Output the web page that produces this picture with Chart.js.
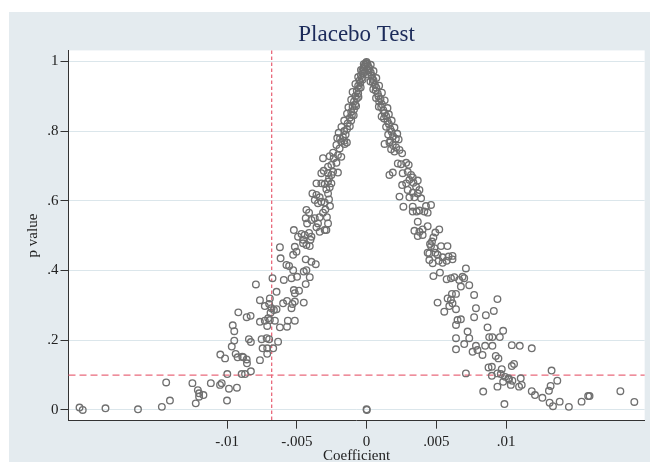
<!DOCTYPE html>
<html>
<head>
<meta charset="utf-8">
<script src="https://cdn.jsdelivr.net/npm/chart.js@4.4.1/dist/chart.umd.min.js"></script>
<style>
    html, body { margin: 0; padding: 0; background: #ffffff; overflow: hidden; }
    #wrap { width: 650px; height: 462px; overflow: hidden; }
    canvas { display: block; }
</style>
</head>
<body>
<div id="wrap"><canvas id="placebo" width="650" height="466"></canvas></div>
<script>
// Coefficients estimés et p-values du test placebo, par zone du nuage
const leftTail = [
    [-0.02057, 0.007], [-0.02034, 0.000], [-0.01871, 0.005], [-0.01638, 0.002], [-0.01467, 0.009],
    [-0.01409, 0.027], [-0.01436, 0.079], [-0.01248, 0.077], [-0.01209, 0.057], [-0.01200, 0.048],
    [-0.01169, 0.043], [-0.01224, 0.019], [-0.01200, 0.038], [-0.01116, 0.077], [-0.01050, 0.072],
    [-0.01038, 0.077], [-0.00986, 0.061], [-0.01000, 0.027], [-0.00929, 0.064], [-0.00998, 0.103],
    [-0.00895, 0.103], [-0.00871, 0.103], [-0.00829, 0.111], [-0.01048, 0.159], [-0.01014, 0.148],
    [-0.00966, 0.182], [-0.00938, 0.161], [-0.00924, 0.151], [-0.00891, 0.153], [-0.00859, 0.145],
    [-0.00857, 0.134], [-0.00948, 0.199], [-0.00948, 0.226], [-0.00843, 0.203], [-0.00829, 0.195],
    [-0.00884, 0.151]
];

const leftSlope = [
    [-0.00793, 0.360], [-0.00919, 0.280], [-0.00859, 0.266], [-0.00831, 0.270], [-0.00959, 0.243],
    [-0.00764, 0.143], [-0.00752, 0.203], [-0.00716, 0.206], [-0.00698, 0.203], [-0.00745, 0.177],
    [-0.00712, 0.177], [-0.00669, 0.177], [-0.00712, 0.161], [-0.00634, 0.196], [-0.00764, 0.253],
    [-0.00729, 0.256], [-0.00705, 0.263], [-0.00693, 0.258], [-0.00657, 0.256], [-0.00712, 0.241],
    [-0.00764, 0.315], [-0.00729, 0.298], [-0.00698, 0.304], [-0.00681, 0.292], [-0.00664, 0.287],
    [-0.00645, 0.289], [-0.00693, 0.320], [-0.00688, 0.279], [-0.00645, 0.339], [-0.00674, 0.378],
    [-0.00621, 0.237], [-0.00570, 0.239], [-0.00564, 0.256], [-0.00514, 0.256], [-0.00598, 0.306],
    [-0.00570, 0.313], [-0.00531, 0.304], [-0.00514, 0.311], [-0.00538, 0.292], [-0.00450, 0.308],
    [-0.00593, 0.373], [-0.00538, 0.378], [-0.00498, 0.382], [-0.00436, 0.361], [-0.00407, 0.381],
    [-0.00521, 0.344], [-0.00514, 0.335], [-0.00484, 0.342], [-0.00574, 0.416], [-0.00555, 0.413],
    [-0.00526, 0.401], [-0.00450, 0.397], [-0.00431, 0.401], [-0.00436, 0.432], [-0.00395, 0.425],
    [-0.00364, 0.418], [-0.00621, 0.467], [-0.00616, 0.435], [-0.00526, 0.445], [-0.00502, 0.454],
    [-0.00514, 0.468], [-0.00455, 0.478], [-0.00431, 0.473], [-0.00407, 0.470], [-0.00491, 0.497],
    [-0.00466, 0.505], [-0.00395, 0.497], [-0.00336, 0.511], [-0.00288, 0.516]
];

const leftArm = [
    [-0.00521, 0.516], [-0.00443, 0.502], [-0.00455, 0.488], [-0.00402, 0.488], [-0.00412, 0.508],
    [-0.00431, 0.574], [-0.00412, 0.566], [-0.00436, 0.550], [-0.00395, 0.545], [-0.00426, 0.535],
    [-0.00371, 0.550], [-0.00336, 0.553], [-0.00348, 0.535], [-0.00312, 0.566], [-0.00284, 0.553],
    [-0.00276, 0.535], [-0.00300, 0.516], [-0.00359, 0.524], [-0.00295, 0.575], [-0.00262, 0.585],
    [-0.00388, 0.621], [-0.00359, 0.617], [-0.00336, 0.610], [-0.00371, 0.602], [-0.00324, 0.597],
    [-0.00300, 0.595], [-0.00348, 0.593], [-0.00269, 0.604], [-0.00276, 0.621], [-0.00359, 0.650],
    [-0.00324, 0.650], [-0.00300, 0.648], [-0.00276, 0.655], [-0.00252, 0.650], [-0.00264, 0.639],
    [-0.00288, 0.633], [-0.00324, 0.679], [-0.00307, 0.686], [-0.00276, 0.679], [-0.00252, 0.674],
    [-0.00240, 0.683], [-0.00205, 0.681], [-0.00269, 0.664], [-0.00312, 0.722], [-0.00264, 0.728],
    [-0.00236, 0.722], [-0.00216, 0.709], [-0.00252, 0.703], [-0.00276, 0.698], [-0.00205, 0.731],
    [-0.00181, 0.726], [-0.00240, 0.738], [-0.00193, 0.750], [-0.00216, 0.760], [-0.00181, 0.769],
    [-0.00157, 0.763], [-0.00141, 0.767]
];

const peakLeft = [
    [-0.00005, 0.995], [-0.00010, 0.990], [-0.00015, 0.985], [-0.00020, 0.978], [-0.00030, 0.972],
    [-0.00025, 0.965], [-0.00040, 0.960], [-0.00035, 0.952], [-0.00050, 0.945], [-0.00045, 0.938],
    [-0.00060, 0.930], [-0.00055, 0.922], [-0.00070, 0.915], [-0.00060, 0.908], [-0.00080, 0.900],
    [-0.00070, 0.893], [-0.00090, 0.885], [-0.00082, 0.876], [-0.00100, 0.870], [-0.00090, 0.862],
    [-0.00110, 0.855], [-0.00105, 0.846], [-0.00120, 0.838], [-0.00110, 0.830], [-0.00135, 0.822],
    [-0.00120, 0.814], [-0.00140, 0.806], [-0.00160, 0.800], [-0.00150, 0.790], [-0.00170, 0.784],
    [-0.00190, 0.778], [-0.00160, 0.772], [-0.00020, 0.992], [-0.00040, 0.975], [-0.00060, 0.955],
    [-0.00080, 0.935], [-0.00100, 0.912], [-0.00110, 0.890], [-0.00130, 0.868], [-0.00140, 0.850],
    [-0.00160, 0.830], [-0.00180, 0.812], [-0.00200, 0.795], [-0.00210, 0.780], [-0.00012, 0.970],
    [-0.00028, 0.948], [-0.00042, 0.925], [-0.00058, 0.898], [-0.00075, 0.872], [-0.00092, 0.845]
];

const peakRight = [
    [0.00000, 0.998], [0.00005, 0.993], [0.00010, 0.987], [0.00020, 0.980], [0.00015, 0.974],
    [0.00030, 0.968], [0.00035, 0.960], [0.00040, 0.953], [0.00050, 0.946], [0.00045, 0.940],
    [0.00060, 0.932], [0.00070, 0.924], [0.00065, 0.916], [0.00080, 0.908], [0.00085, 0.900],
    [0.00100, 0.892], [0.00090, 0.885], [0.00110, 0.877], [0.00105, 0.868], [0.00120, 0.860],
    [0.00130, 0.852], [0.00140, 0.843], [0.00125, 0.836], [0.00150, 0.828], [0.00160, 0.820],
    [0.00140, 0.812], [0.00170, 0.806], [0.00180, 0.798], [0.00155, 0.790], [0.00190, 0.785],
    [0.00210, 0.778], [0.00170, 0.772], [0.00030, 0.990], [0.00050, 0.972], [0.00070, 0.952],
    [0.00090, 0.930], [0.00110, 0.910], [0.00130, 0.888], [0.00150, 0.866], [0.00160, 0.848],
    [0.00180, 0.830], [0.00200, 0.810], [0.00220, 0.792], [0.00230, 0.776], [0.00012, 0.962],
    [0.00028, 0.942], [0.00048, 0.920], [0.00068, 0.895], [0.00088, 0.870], [0.00108, 0.842]
];

const rightArm = [
    [0.00129, 0.763], [0.00164, 0.767], [0.00188, 0.760], [0.00212, 0.753], [0.00236, 0.746],
    [0.00255, 0.736], [0.00176, 0.748], [0.00200, 0.741], [0.00224, 0.707], [0.00248, 0.705],
    [0.00284, 0.709], [0.00302, 0.703], [0.00164, 0.674], [0.00188, 0.681], [0.00259, 0.679],
    [0.00295, 0.683], [0.00319, 0.674], [0.00331, 0.667], [0.00307, 0.660], [0.00336, 0.652],
    [0.00367, 0.658], [0.00355, 0.640], [0.00284, 0.650], [0.00255, 0.645], [0.00295, 0.631],
    [0.00331, 0.623], [0.00367, 0.621], [0.00379, 0.631], [0.00343, 0.610], [0.00307, 0.610],
    [0.00391, 0.607], [0.00236, 0.612], [0.00264, 0.583], [0.00331, 0.583], [0.00359, 0.569],
    [0.00379, 0.572], [0.00414, 0.569], [0.00438, 0.566], [0.00426, 0.585], [0.00462, 0.588],
    [0.00331, 0.569], [0.00367, 0.540], [0.00343, 0.514], [0.00379, 0.511], [0.00402, 0.518],
    [0.00438, 0.527], [0.00367, 0.499], [0.00402, 0.502], [0.00521, 0.518], [0.00493, 0.509],
    [0.00479, 0.495], [0.00469, 0.483], [0.00462, 0.470], [0.00486, 0.464], [0.00534, 0.470],
    [0.00580, 0.470], [0.00450, 0.449], [0.00509, 0.445], [0.00545, 0.438], [0.00588, 0.440],
    [0.00616, 0.442], [0.00455, 0.476], [0.00438, 0.451], [0.00493, 0.451], [0.00450, 0.430],
    [0.00474, 0.421], [0.00517, 0.428], [0.00574, 0.428], [0.00616, 0.432], [0.00545, 0.422]
];

const rightSlope = [
    [0.00479, 0.384], [0.00526, 0.394], [0.00574, 0.375], [0.00605, 0.378], [0.00629, 0.381],
    [0.00664, 0.373], [0.00688, 0.382], [0.00712, 0.406], [0.00676, 0.354], [0.00736, 0.358],
    [0.00771, 0.330], [0.00509, 0.308], [0.00557, 0.282], [0.00581, 0.320], [0.00605, 0.316],
    [0.00616, 0.306], [0.00641, 0.289], [0.00652, 0.258], [0.00676, 0.260], [0.00641, 0.244],
    [0.00724, 0.225], [0.00771, 0.266], [0.00784, 0.292], [0.00855, 0.272], [0.00641, 0.206],
    [0.00736, 0.206], [0.00593, 0.298], [0.00612, 0.333], [0.00641, 0.333], [0.00700, 0.378],
    [0.00700, 0.189], [0.00641, 0.174], [0.00850, 0.184], [0.00902, 0.184], [0.00784, 0.184],
    [0.00795, 0.172], [0.00760, 0.167], [0.00831, 0.158], [0.00926, 0.155], [0.00945, 0.148],
    [0.00879, 0.209], [0.00902, 0.209], [0.00955, 0.209], [0.00979, 0.227], [0.00867, 0.237],
    [0.00912, 0.284], [0.00938, 0.318], [0.01184, 0.177], [0.01098, 0.184], [0.01041, 0.186]
];

const rightTail = [
    [0.00002, 0.000], [0.00000, 0.002], [0.00712, 0.105], [0.00836, 0.053], [0.00988, 0.017],
    [0.00938, 0.067], [0.00979, 0.081], [0.01017, 0.091], [0.01034, 0.072], [0.00993, 0.095],
    [0.01045, 0.084], [0.01093, 0.067], [0.01112, 0.072], [0.01105, 0.091], [0.00874, 0.122],
    [0.00898, 0.124], [0.00898, 0.098], [0.00938, 0.105], [0.00969, 0.117], [0.01041, 0.126],
    [0.01057, 0.132], [0.01184, 0.054], [0.01207, 0.043], [0.01260, 0.035], [0.01307, 0.055],
    [0.01319, 0.069], [0.01326, 0.113], [0.01367, 0.084], [0.01312, 0.021], [0.01336, 0.011],
    [0.01384, 0.024], [0.01450, 0.009], [0.01541, 0.024], [0.01588, 0.040], [0.01598, 0.040],
    [0.01819, 0.054], [0.01919, 0.023], [0.00962, 0.103], [0.01021, 0.088]
];

// Axes et lignes de référence
const xTickValues = [-0.01, -0.005, 0, 0.005, 0.01];
const xTickLabels = ['-.01', '-.005', '0', '.005', '.01'];
const yTickValues = [0, 0.2, 0.4, 0.6, 0.8, 1];
const yTickLabels = ['0', '.2', '.4', '.6', '.8', '1'];
const trueCoef = -0.0068;
const pThreshold = 0.1;

const allPoints = [].concat(leftTail, leftSlope, leftArm, peakLeft, peakRight, rightArm, rightSlope, rightTail)
    .map(([x, p]) => ({ x: x, y: p }));

const serif = 'Liberation Serif, Times New Roman, serif';

// Fond gris-bleu type Stata et zone de tracé blanche
const backgroundPlugin = {
    id: 'stataBackground',
    beforeDraw(chart) {
        const { ctx, chartArea } = chart;
        ctx.save();
        ctx.fillStyle = '#ffffff';
        ctx.fillRect(0, 0, chart.width, chart.height);
        ctx.fillStyle = '#e4ebef';
        ctx.fillRect(9, 12, chart.width - 9, chart.height - 12);
        ctx.fillStyle = '#ffffff';
        ctx.fillRect(chartArea.left, chartArea.top, chartArea.right - chartArea.left, chartArea.bottom - chartArea.top);
        ctx.restore();
    }
};

// Lignes pointillées : vrai coefficient et seuil de 10 %
const refLinesPlugin = {
    id: 'refLines',
    beforeDatasetsDraw(chart) {
        const { ctx, chartArea, scales } = chart;
        const xPix = scales.x.getPixelForValue(trueCoef);
        const yPix = scales.y.getPixelForValue(pThreshold);
        ctx.save();
        ctx.strokeStyle = '#e96a7c';
        ctx.lineWidth = 1.3;
        ctx.setLineDash([7, 4]);
        ctx.beginPath();
        ctx.moveTo(chartArea.left, yPix);
        ctx.lineTo(chartArea.right, yPix);
        ctx.stroke();
        ctx.lineWidth = 1.3;
        ctx.setLineDash([3.5, 2.5]);
        ctx.beginPath();
        ctx.moveTo(xPix, chartArea.top);
        ctx.lineTo(xPix, chartArea.bottom);
        ctx.stroke();
        ctx.restore();
    }
};

const ctx = document.getElementById('placebo').getContext('2d');
new Chart(ctx, {
    type: 'scatter',
    data: {
        datasets: [{
            label: 'Placebo',
            data: allPoints,
            pointStyle: 'circle',
            pointRadius: 3.3,
            pointBorderWidth: 1.35,
            borderColor: '#707070',
            backgroundColor: 'rgba(0,0,0,0)'
        }]
    },
    options: {
        responsive: false,
        animation: false,
        layout: { padding: { top: 12, left: 0, right: 4, bottom: 0 } },
        plugins: {
            legend: { display: false },
            tooltip: { enabled: false },
            title: {
                display: true,
                text: 'Placebo Test',
                fullSize: false,
                color: '#1c2b5a',
                font: { family: serif, size: 23, weight: 'normal', lineHeight: 1.2 },
                padding: { top: 9, bottom: 1.8 }
            }
        },
        scales: {
            x: {
                type: 'linear',
                min: -0.02136,
                max: 0.01993,
                afterFit: (scale) => { scale.height = 45.3; },
                afterBuildTicks: (scale) => { scale.ticks = xTickValues.map(v => ({ value: v })); },
                ticks: {
                    color: '#222',
                    padding: 4,
                    maxRotation: 0,
                    font: { family: serif, size: 15 },
                    callback: (value) => xTickLabels[xTickValues.indexOf(value)]
                },
                grid: { drawOnChartArea: false, tickLength: 8, tickColor: '#333', tickWidth: 1 },
                border: { display: true, color: '#333', width: 1 },
                title: {
                    display: true,
                    text: 'Coefficient',
                    color: '#222',
                    font: { family: serif, size: 15, lineHeight: 1.2 },
                    padding: { top: 0, bottom: 1 }
                }
            },
            y: {
                type: 'linear',
                min: -0.0307,
                max: 1.0313,
                afterFit: (scale) => { scale.width = 68.5; },
                afterBuildTicks: (scale) => { scale.ticks = yTickValues.map(v => ({ value: v })); },
                ticks: {
                    color: '#222',
                    padding: 2,
                    font: { family: serif, size: 15 },
                    callback: (value) => yTickLabels[yTickValues.indexOf(value)]
                },
                grid: { color: '#dbe6eb', lineWidth: 1, tickLength: 8, tickColor: '#333', tickWidth: 1 },
                border: { display: true, color: '#333', width: 1 },
                title: {
                    display: true,
                    text: 'p value',
                    color: '#222',
                    font: { family: serif, size: 15, lineHeight: 1.2 },
                    padding: { top: 24, bottom: 0 }
                }
            }
        }
    },
    plugins: [backgroundPlugin, refLinesPlugin]
});
</script>
</body>
</html>
